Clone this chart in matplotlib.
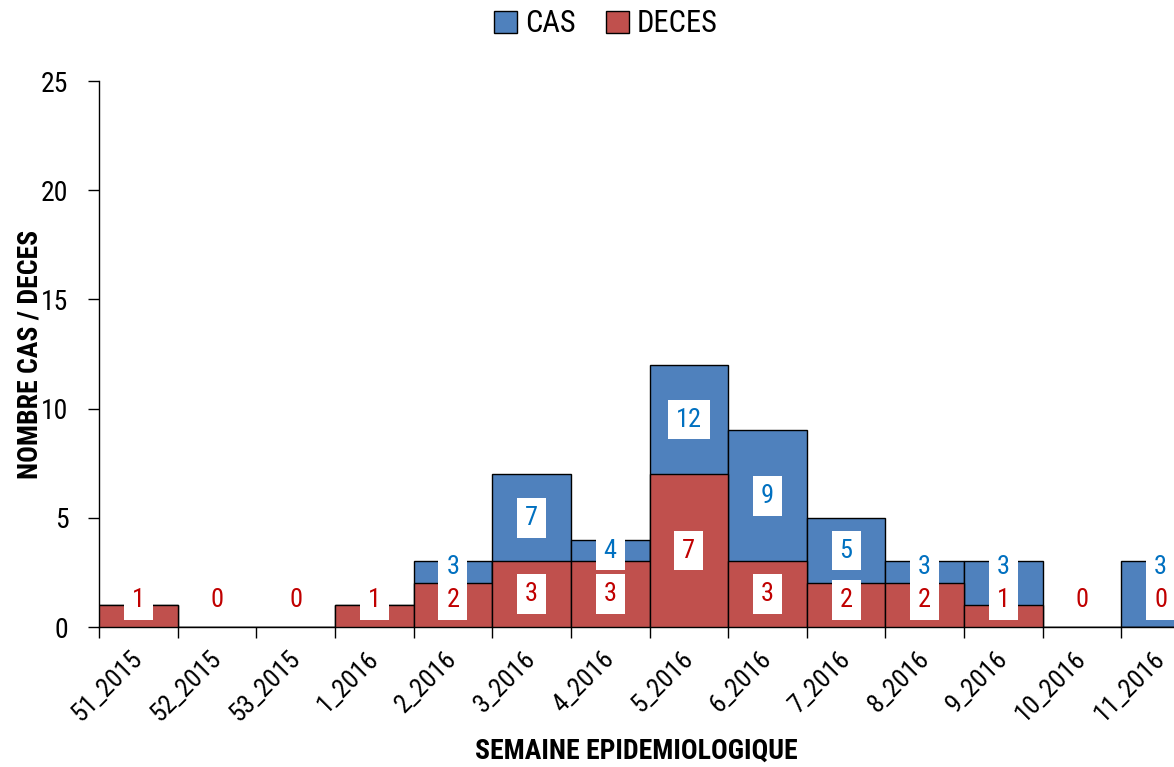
import numpy as np
import matplotlib
matplotlib.use("Agg")
import matplotlib.pyplot as plt
import matplotlib.transforms as mtransforms
from matplotlib.patches import Patch

plt.rcParams['font.family'] = ['Liberation Sans Narrow', 'Roboto Condensed', 'Liberation Sans', 'DejaVu Sans']

# --- données ---
semaines = ['51_2015', '52_2015', '53_2015', '1_2016', '2_2016', '3_2016', '4_2016',
            '5_2016', '6_2016', '7_2016', '8_2016', '9_2016', '10_2016', '11_2016']
cas = [1, 0, 0, 1, 3, 7, 4, 12, 9, 5, 3, 3, 0, 3]
deces = [1, 0, 0, 1, 2, 3, 3, 7, 3, 2, 2, 1, 0, 0]

BLEU = '#4F81BD'
ROUGE = '#C0504D'
TXT_BLEU = '#0070C0'
TXT_ROUGE = '#C00000'

fig = plt.figure(figsize=(11.74, 7.67), dpi=100)
W, H = 1174, 767
ax = fig.add_axes([99 / W, (H - 627) / H, (1200 - 99) / W, (627 - 81) / H])

x = np.arange(len(semaines))
ax.bar(x, cas, width=1.0, color=BLEU, edgecolor='black', linewidth=1.0, zorder=2)
ax.bar(x, deces, width=1.0, color=ROUGE, edgecolor='black', linewidth=1.0, zorder=3)

# étiquettes : les cas ne sont affichés que s'ils dépassent les décès
boite = dict(boxstyle='square,pad=0.3', facecolor='white', edgecolor='none')
for i in x:
    c, d = cas[i], deces[i]
    y_d = max(d / 2, 1.25)
    ax.text(i, y_d, str(d), color=TXT_ROUGE, fontsize=19, ha='center', va='center',
            bbox=boite, zorder=5)
    if c > d:
        y_c = max((c + d) / 2, y_d + 1.5)
        ax.text(i, y_c, str(c), color=TXT_BLEU, fontsize=19, ha='center', va='center',
                bbox=boite, zorder=5)

ax.set_xlim(-0.5, 13.5)
ax.set_ylim(0, 25)
ax.set_yticks(range(0, 26, 5))
ax.set_xticks(np.arange(-0.5, 14, 1.0))
ax.set_xticklabels([])
ax.set_xticks(x, minor=True)
ax.set_xticklabels(semaines, minor=True, rotation=45, ha='right', va='top',
                   rotation_mode='anchor', fontsize=19)
ax.tick_params(axis='x', which='minor', length=0, pad=14)
ax.tick_params(axis='x', which='major', direction='out', length=8, width=1)
ax.tick_params(axis='y', direction='out', length=8, width=1, labelsize=20, pad=14)

# léger décalage à gauche des libellés de semaines
decalage = mtransforms.ScaledTranslation(-8 / 100, 0, fig.dpi_scale_trans)
for lab in ax.get_xticklabels(minor=True):
    lab.set_transform(lab.get_transform() + decalage)

for s in ['top', 'right']:
    ax.spines[s].set_visible(False)
for s in ['left', 'bottom']:
    ax.spines[s].set_linewidth(1.0)

fig.text(30 / W, 1 - 354 / H, 'NOMBRE CAS / DECES', rotation=90, fontsize=20,
         fontweight='bold', ha='center', va='center')
fig.text(636 / W, 1 - 751 / H, 'SEMAINE EPIDEMIOLOGIQUE', fontsize=20,
         fontweight='bold', ha='center', va='center')

handles = [Patch(facecolor=BLEU, edgecolor='black', label='CAS'),
           Patch(facecolor=ROUGE, edgecolor='black', label='DECES')]
fig.legend(handles=handles, loc='center', bbox_to_anchor=(606 / W, 1 - 24 / H), ncol=2,
           frameon=False, fontsize=22, handlelength=0.75, handleheight=0.75,
           handletextpad=0.25, columnspacing=1.0)

fig.savefig('out.png', dpi=100)
